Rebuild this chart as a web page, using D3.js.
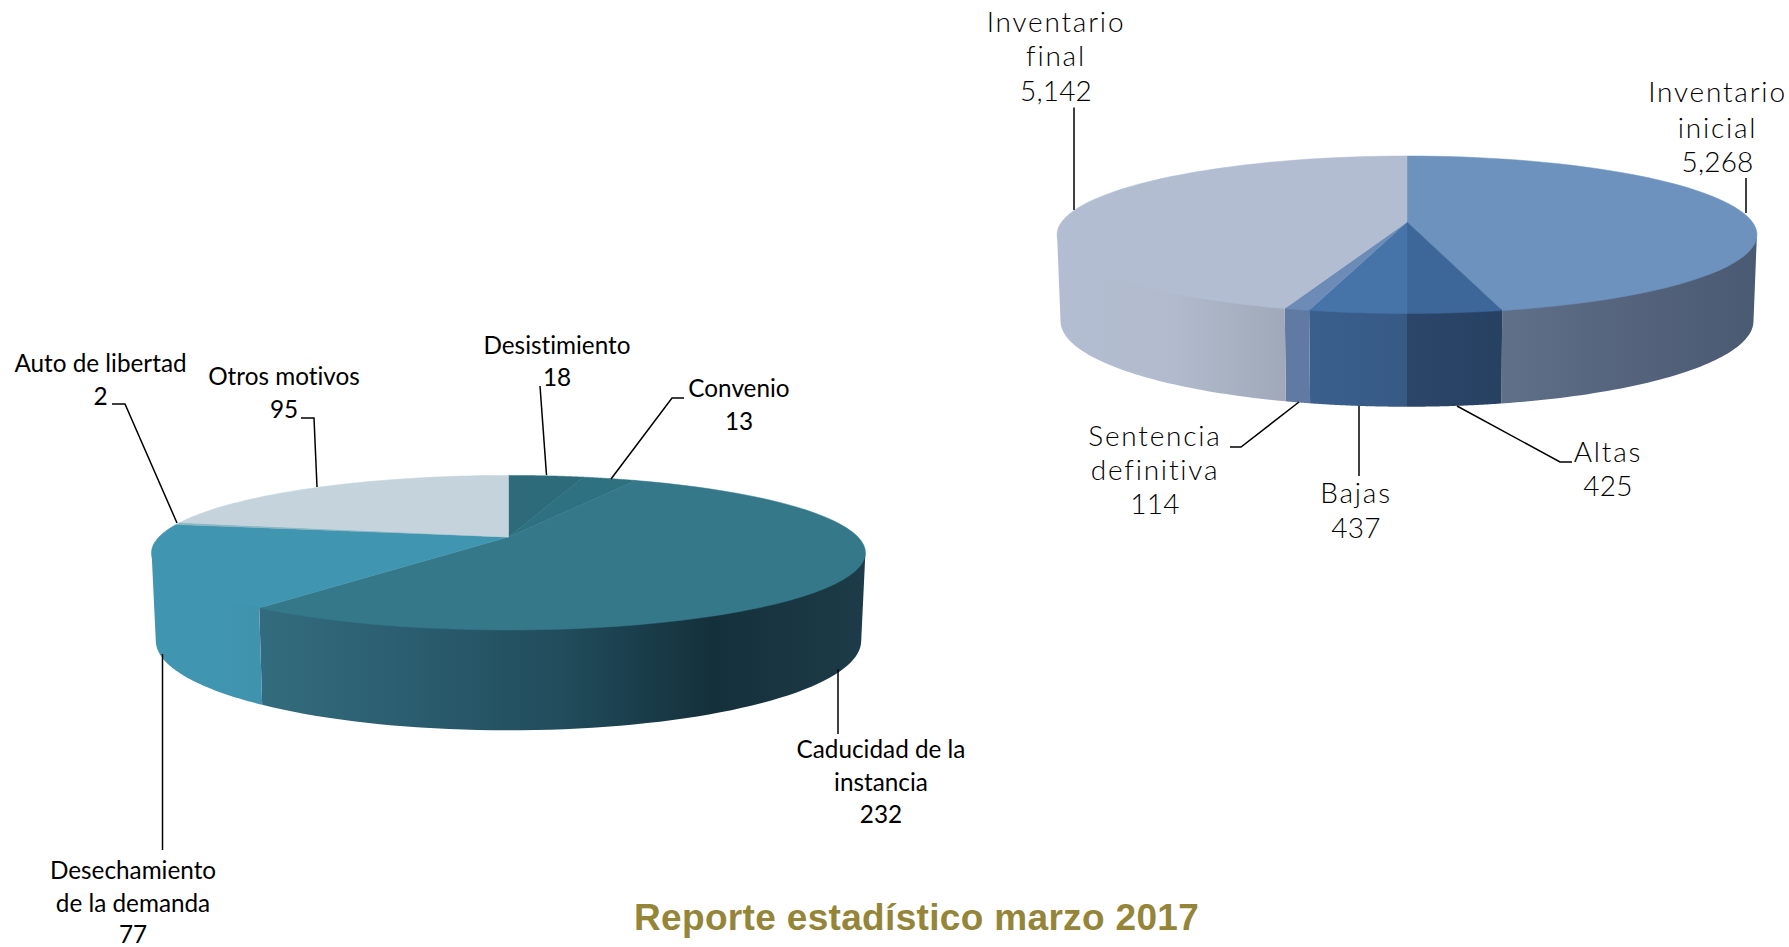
<!DOCTYPE html>
<html>
<head>
<meta charset="utf-8">
<style>
  html, body { margin: 0; padding: 0; background: #fff; }
  svg { display: block; }
  text { font-variant-ligatures: none; }
</style>
<script src="https://cdn.jsdelivr.net/npm/d3@7"></script>
</head>
<body>
<svg id="chart" width="1789" height="947"></svg>
<script>
"use strict";

// data, clockwise from 12 o'clock
const leftCategories = ["Desistimiento", "Convenio", "Caducidad de la instancia", "Desechamiento de la demanda", "Auto de libertad", "Otros motivos"]
const leftValues = [18, 13, 232, 77, 2, 95]
const rightCategories = ["Inventario inicial", "Altas", "Bajas", "Sentencia definitiva", "Inventario final"]
const rightValues = [5268, 425, 437, 114, 5142]

const leftTopColors = ["#2d6a7a", "#2e7181", "#34788a", "#4095b0", "#8fb6c4", "#c5d4dc"]
const leftSideColors = [
  ["#2d6a7a", "#2d6a7a"],
  ["#2e7181", "#2e7181"],
  ["#336c7e", "#2a5d6f", "#214c5c", "#14303b", "#1d3b48"],
  ["#4095b0", "#4095b0", "#3f93ad"],
  ["#8fb6c4", "#8fb6c4"],
  ["#c5d4dc", "#c5d4dc"]
]
const rightTopColors = ["#6c92bd", "#3d6699", "#4674a9", "#6c8cb7", "#b3bdd2"]
const rightSideColors = [
  ["#5f7089", "#55637c", "#4a5a72"],
  ["#2c4669", "#274163"],
  ["#3a5f8d", "#375a85"],
  ["#607aa3", "#607aa3"],
  ["#b3bdd2", "#b2bbcd", "#a0a9b9"]
]

const title = "Reporte estadístico marzo 2017"

// placement of the two discs
const leftGeom = {cx: 508.5, cy: 537, top: 475.4, front: 630, rx: 357, extY: 553, extDepth: 88, yStretch: 1.16, xShrink: 0.988}
const rightGeom = {cx: 1407, cy: 222, top: 156, front: 313.5, rx: 350, extY: 233, extDepth: 86, yStretch: 1.09, xShrink: 0.99}

// label placement: anchor x, baselines, leader polyline
const leftLabels = [
  {x: 557, ys: [354, 386], lines: ["Desistimiento", "18"], leader: [[540, 386], [546.5, 475]]},
  {x: 739, ys: [397, 430], lines: ["Convenio", "13"], leader: [[684, 398], [672, 398], [611, 479]]},
  {x: 881, ys: [758, 791, 823], lines: ["Caducidad de la", "instancia", "232"], leader: [[838, 669], [838, 734]]},
  {x: 133, ys: [879, 912, 943], lines: ["Desechamiento", "de la demanda", "77"], leader: [[162.5, 654], [162.5, 850]]},
  {x: 100.5, ys: [372, 405], lines: ["Auto de libertad", "2"], leader: [[112, 404], [125, 404], [177, 523]]},
  {x: 284, ys: [385, 418], lines: ["Otros motivos", "95"], leader: [[301, 418], [314, 418], [317, 487]]}
]
const rightLabels = [
  {x: 1717.5, ys: [102, 138, 172], lines: ["Inventario", "inicial", "5,268"], leader: [[1746, 178], [1746, 213]]},
  {x: 1608, ys: [462, 496], lines: ["Altas", "425"], leader: [[1572, 462], [1560, 462], [1457, 406]]},
  {x: 1356, ys: [503, 538], lines: ["Bajas", "437"], leader: [[1359, 406], [1359, 476]]},
  {x: 1155, ys: [446, 480, 514], lines: ["Sentencia", "definitiva", "114"], leader: [[1230, 447], [1241, 447], [1299, 402]]},
  {x: 1056, ys: [32, 66, 101], lines: ["Inventario", "final", "5,142"], leader: [[1074, 107.5], [1074, 210]]}
]

const svg = d3.select("#chart")
const defs = svg.append("defs")
const line = d3.line()

function drawPie(id, values, topColors, sideColors, geom){
  const g = svg.append("g").attr("id", id)
  const arcs = d3.pie().sort(null).startAngle(0).endAngle(2 * Math.PI)(values)

  // perspective disc: the apex sits above the middle of the ellipse
  const back = geom.cy - geom.top, near = geom.front - geom.cy
  const k = (back - near) / (back + near)
  const xScale = d3.scaleLinear().domain([-1, 1]).range([geom.cx - geom.rx * Math.sqrt(1 - k * k), geom.cx + geom.rx * Math.sqrt(1 - k * k)])
  const yScale = d3.scaleLinear().domain([-1, 1]).range([geom.cy - back * (1 - k), geom.cy + back * (1 - k)])

  const topPoint = a => {
    const u = Math.sin(a), v = -Math.cos(a), w = 1 + k * v
    return [xScale(u / w), yScale(v / w)]
  }
  const basePoint = a => {
    const p = topPoint(a)
    return [geom.cx + (p[0] - geom.cx) * geom.xShrink, geom.extY + geom.extDepth + (p[1] - geom.extY) * geom.yStretch]
  }
  const sample = (a0, a1) => d3.range(0, 61).map(i => a0 + (a1 - a0) * i / 60)

  // angles where the rim turns from front to back
  const angR = Math.acos(k), angL = 2 * Math.PI - angR

  arcs.forEach((d, i) => {
    const a0 = Math.max(d.startAngle, angR), a1 = Math.min(d.endAngle, angL)
    if(a1 <= a0) return
    const ring = sample(a0, a1)
    // upper edge tucked under the top face so no light seam shows
    const upper = ring.map(topPoint).map(p => [p[0], p[1] - 2])
    const pts = upper.concat(ring.slice().reverse().map(basePoint))
    const xs = pts.map(p => p[0])
    const stops = sideColors[i]
    const grad = defs.append("linearGradient")
      .attr("id", id + "-side-" + i)
      .attr("gradientUnits", "userSpaceOnUse")
      .attr("x1", d3.min(xs)).attr("x2", d3.max(xs))
      .attr("y1", 0).attr("y2", 0)
    stops.forEach((c, j) => grad.append("stop").attr("offset", j / (stops.length - 1)).attr("stop-color", c))
    g.append("path")
      .attr("d", line(pts) + "Z")
      .attr("fill", "url(#" + id + "-side-" + i + ")")
  })

  arcs.forEach((d, i) => {
    const pts = [[geom.cx, geom.cy]].concat(sample(d.startAngle, d.endAngle).map(topPoint))
    g.append("path")
      .attr("d", line(pts) + "Z")
      .attr("fill", topColors[i])
      .attr("stroke", topColors[i])
      .attr("stroke-width", 0.5)
  })
}

function drawLabels(id, labels, font, size, weight, wordSpacing, digitSpacing){
  const g = svg.append("g").attr("id", id)
  labels.forEach(l => {
    g.append("path")
      .attr("d", line(l.leader))
      .attr("fill", "none")
      .attr("stroke", "#000")
      .attr("stroke-width", 1.5)
    l.lines.forEach((t, i) => {
      g.append("text")
        .attr("x", l.x)
        .attr("y", l.ys[i])
        .attr("text-anchor", "middle")
        .attr("font-family", font)
        .attr("font-size", size)
        .attr("font-weight", weight)
        .attr("letter-spacing", /^\d/.test(t) ? digitSpacing : wordSpacing)
        .attr("fill", "#000")
        .text(t)
    })
  })
}

drawPie("left-pie", leftValues, leftTopColors, leftSideColors, leftGeom)
drawPie("right-pie", rightValues, rightTopColors, rightSideColors, rightGeom)

drawLabels("left-labels", leftLabels, "Lato, 'Open Sans', sans-serif", 24.3, 400, 0, 0)
drawLabels("right-labels", rightLabels, "Lato, 'Liberation Sans', sans-serif", 28, 300, 1.8, 0.2)

svg.append("text")
  .attr("x", 634)
  .attr("y", 930)
  .attr("font-family", "'Liberation Sans', Arial, sans-serif")
  .attr("font-size", 37)
  .attr("font-weight", 700)
  .attr("letter-spacing", 0.33)
  .attr("fill", "#948539")
  .text(title)
</script>
</body>
</html>
